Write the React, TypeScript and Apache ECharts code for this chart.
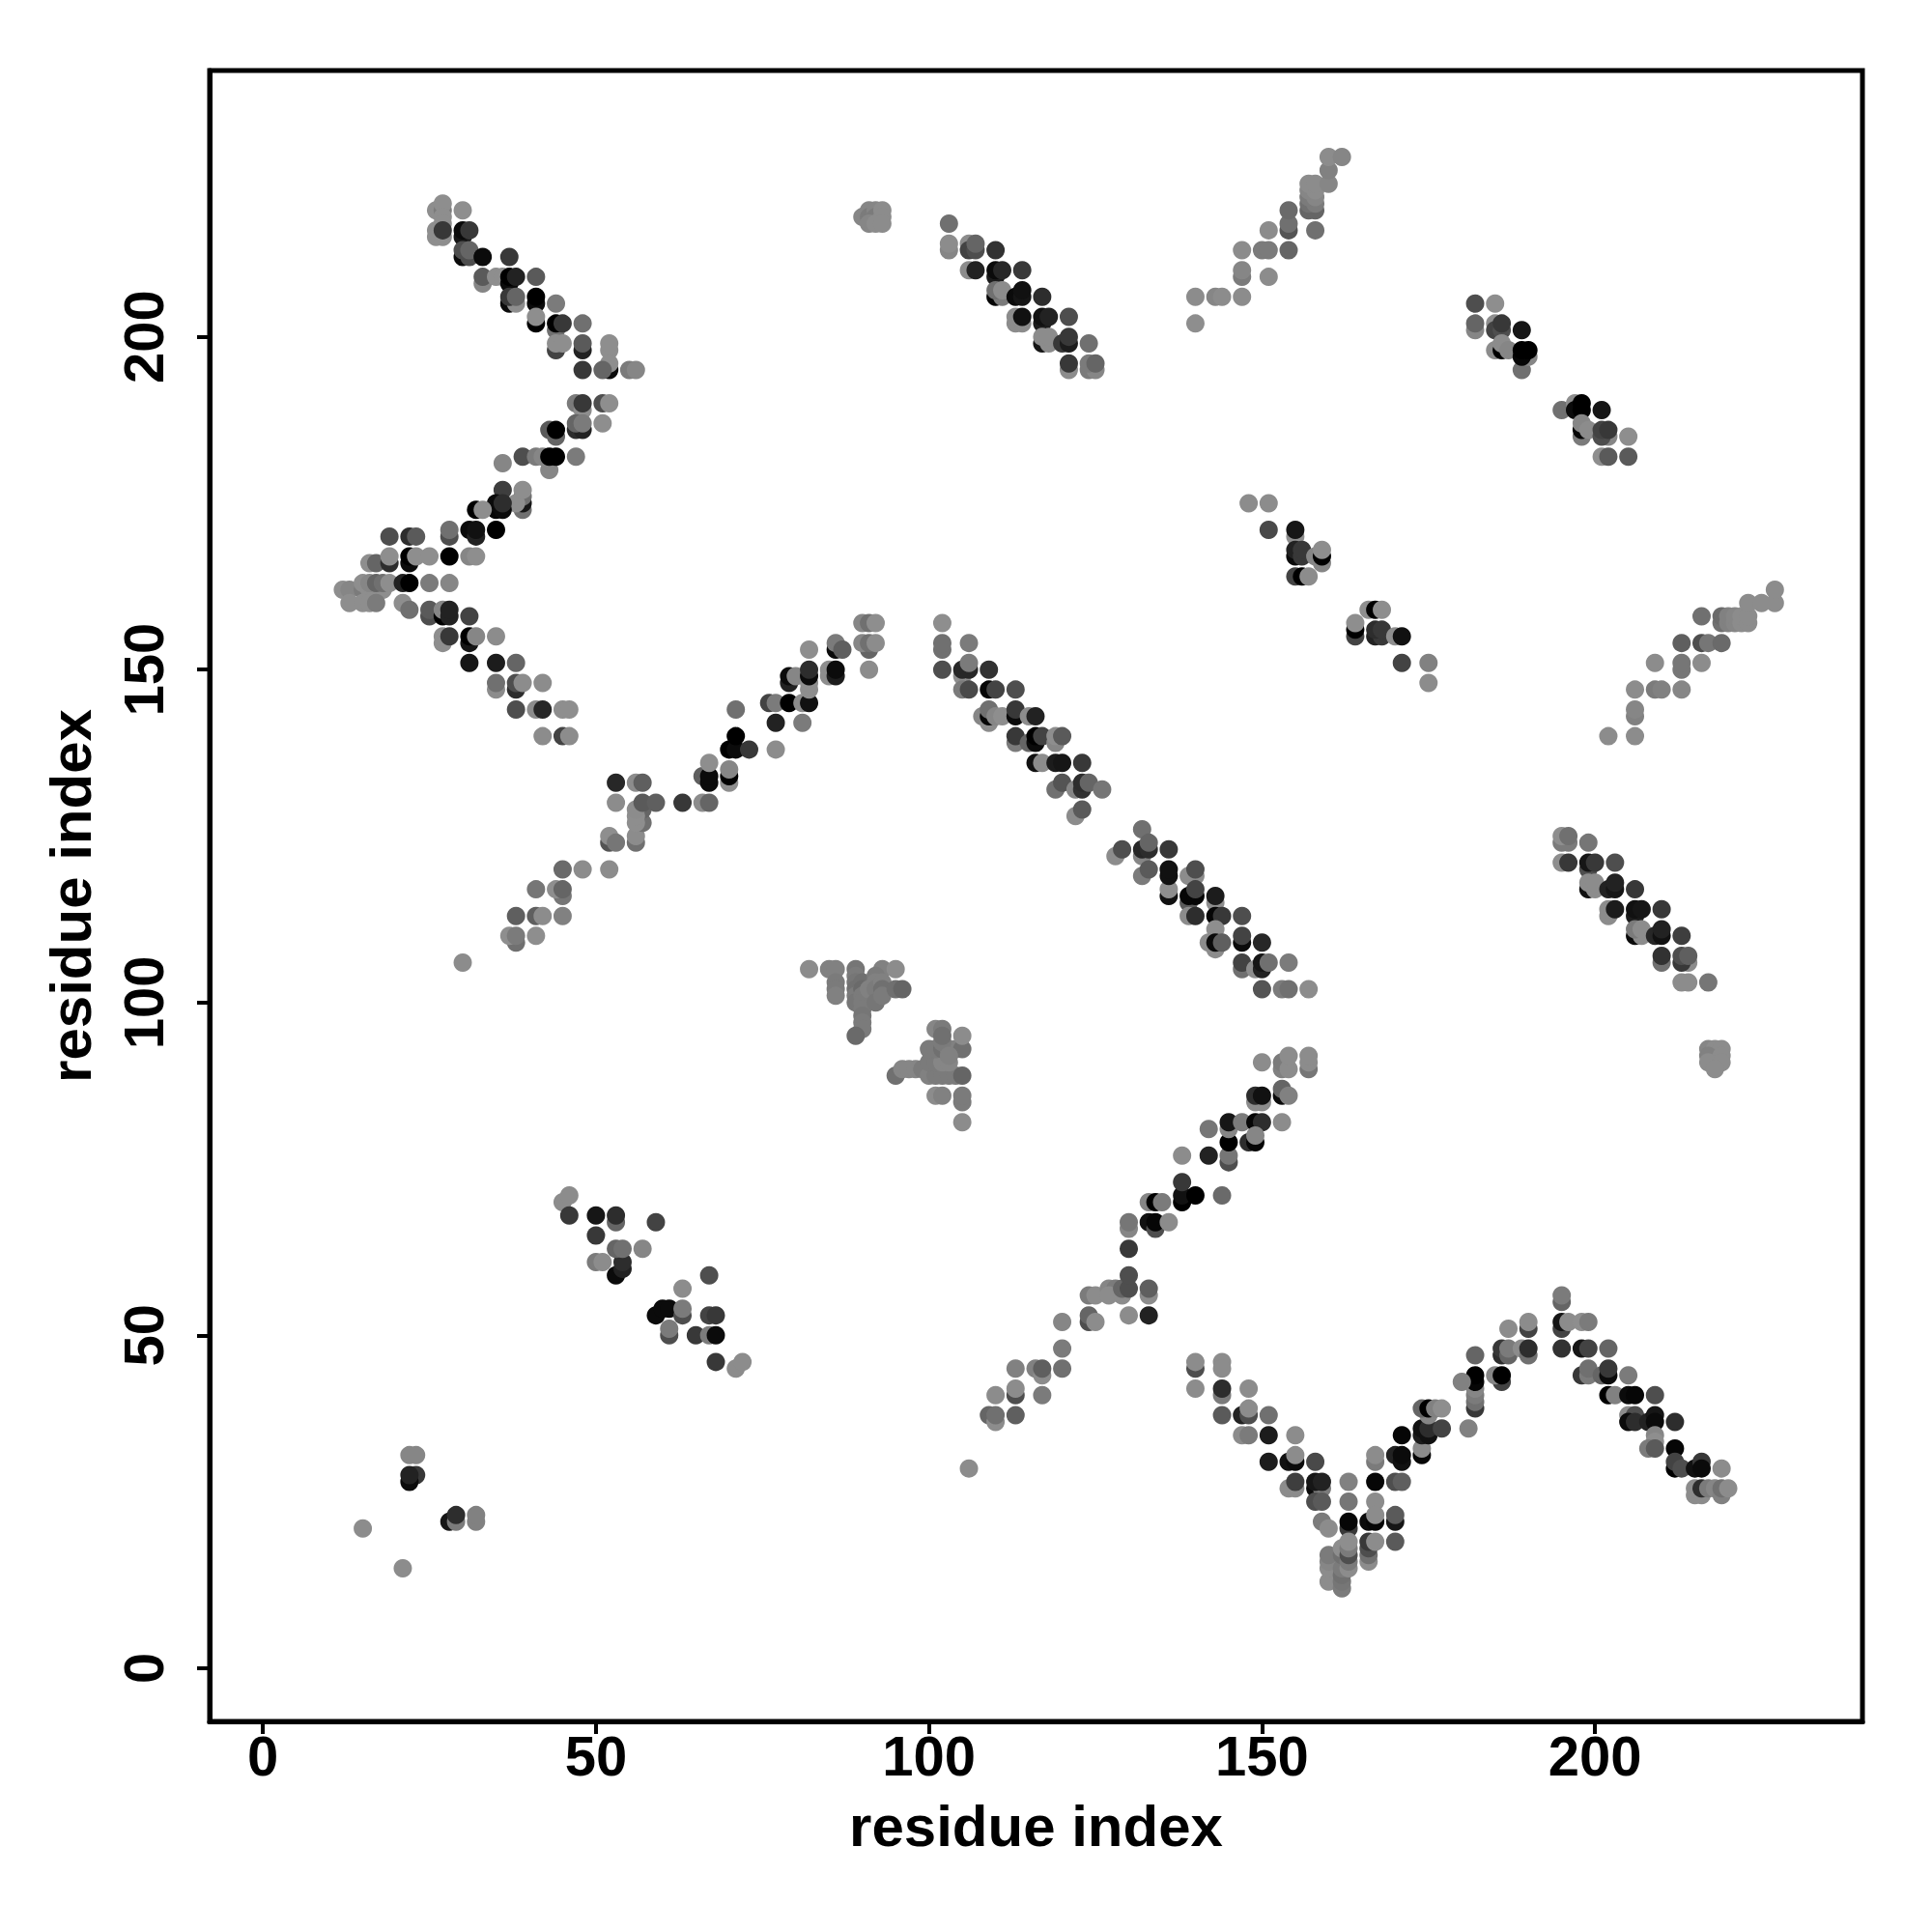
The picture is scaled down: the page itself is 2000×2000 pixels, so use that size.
import React, { useEffect, useRef } from "react";
import * as echarts from "echarts";

type P = [number, number, number];

const tickValues = [0, 50, 100, 150, 200];
const axisTitle = "residue index";

// each point: [residue x, residue y, grey level of the point]
const armTopLeft: P[] = [
[26,219,130],[27,219,110],[27,220,145],[30,219,130],[26,216,140],[26,215,140],[27,215,140],[27,218,140],[27,217,140],[27,216,50],
[30,215,20],[30,216,10],[31,216,50],[30,212,10],[31,212,70],[30,213,70],[31,213,90],[33,212,10],[37,212,50],
[33,208,120],[33,209,80],[35,209,135],[36,209,140],[37,208,10],[37,209,0],[38,209,30],[41,209,80],
[37,205,10],[38,205,130],[37,206,50],[38,206,90],[41,205,10],[41,206,0],[41,202,0],[41,203,130],[44,205,110],
[44,201,100],[44,202,0],[45,202,50],[48,202,100],[44,198,60],[44,199,130],[45,199,130],[48,198,30],[48,199,80],
[52,195,10],[52,198,130],[52,199,130],[52,196,130],[48,195,50],[51,195,90],[55,195,110],[56,195,120],
];
const armLeftRise: P[] = [
[47,190,110],[48,189,130],[48,190,50],[51,190,70],[52,190,130],[47,186,40],[48,186,30],[47,187,90],[48,187,110],[51,187,140],
[43,186,80],[44,185,90],[44,186,0],[39,182,70],[41,182,110],[42,182,120],[43,180,120],[43,182,0],[44,182,0],[47,182,110],[36,181,120],
[36,177,55],[39,174,100],[39,175,20],[39,176,100],[38,175,130],[39,177,135],[35,174,5],[36,174,10],[35,175,10],[36,175,40],
[32,174,0],[33,174,130],[28,170,70],[28,171,100],[31,171,10],[32,170,30],[32,171,15],[35,171,0],
[19,170,70],[22,170,40],[23,170,80],[16,166,130],[17,166,90],[19,166,40],[19,167,130],[22,166,10],[22,167,0],[23,167,130],[25,167,130],[28,167,0],[31,167,120],[32,167,130],
];
const armLeftTip: P[] = [
[12,162,130],[13,162,120],[15,162,110],[16,162,130],[18,162,130],[15,163,130],[16,163,120],[17,163,90],[18,163,100],[19,163,130],[21,163,30],[22,163,0],[25,163,110],[28,163,120],
[13,160,130],[15,160,130],[16,160,130],[17,160,110],[21,160,130],[22,159,100],[25,158,70],[25,159,80],[27,158,0],[27,159,120],[28,158,30],[28,159,30],[31,158,60],
[27,154,130],[27,155,130],[28,155,50],[31,154,20],[31,155,0],[32,155,120],[35,155,125],[31,151,20],[35,151,25],[38,151,90],
[35,147,125],[35,148,100],[38,147,40],[38,148,70],[39,148,125],[42,148,125],[38,144,70],[41,144,125],[42,144,35],[45,144,130],[46,144,130],
[42,140,125],[45,140,60],[46,140,125],
];
const lowerLeftBits: P[] = [
[15,21,125],[21,15,125],[22,32,120],[23,32,120],[23,29,50],[22,28,10],[22,29,30],[28,22,20],[29,22,110],[29,23,40],[32,22,115],[32,23,115],
[45,70,125],[46,71,125],[46,68,50],[50,65,50],[50,68,20],[53,67,90],[53,68,40],[59,67,60],[50,61,110],[51,61,125],[53,59,10],[54,60,30],[54,61,40],[53,63,90],[54,63,100],[57,63,120],
[67,59,70],[63,57,125],[59,53,10],[60,54,10],[61,54,10],[61,50,70],[61,51,110],[63,53,70],[63,54,110],[65,50,50],[67,53,60],[68,53,50],[67,50,110],[68,50,10],[68,46,50],[71,45,125],[72,46,125],
];
const armCentreRise: P[] = [
[30,106,125],[38,109,100],[37,110,130],[38,110,110],[41,110,130],[38,113,85],[41,113,85],[42,113,125],[45,113,115],
[41,117,105],[45,116,105],[44,117,130],[45,117,90],[45,120,95],[48,120,125],[52,120,125],
[52,124,75],[52,125,130],[53,124,105],[56,124,100],[56,125,125],[57,127,100],[56,127,130],[57,129,90],[56,128,130],[56,129,125],[57,130,80],
[53,130,125],[59,130,85],[63,130,50],[66,130,125],[67,130,90],[53,133,35],[56,133,125],[57,133,85],
[66,134,85],[67,133,10],[67,134,10],[67,136,130],[70,133,130],[70,134,0],[70,135,120],
[70,138,0],[71,138,10],[73,138,50],[71,140,0],[77,138,125],[71,144,100],
[76,145,60],[77,145,110],[79,145,0],[81,145,125],[82,145,15],[77,142,30],[81,142,110],
[79,148,30],[79,149,10],[80,149,120],[82,147,130],[82,148,130],[82,149,10],[82,150,40],[82,153,130],
[85,149,130],[85,150,130],[86,149,25],[86,150,10],[86,153,10],[86,154,110],[87,153,85],
[90,157,120],[91,157,100],[92,157,130],[91,153,90],[90,154,120],[91,154,100],[92,154,125],[91,150,125],
];
const greyPatchA: P[] = [
[82,105,125],[85,105,115],[86,105,115],[89,105,105],[93,105,115],[95,105,125],
[86,103,110],[86,102,110],[86,101,115],[89,104,110],[89,103,105],[89,102,100],[89,101,110],[89,100,105],[90,103,100],[90,102,95],[90,101,110],[90,100,110],[90,99,110],[90,98,105],[90,97,110],[90,96,110],[89,95,95],
[91,102,115],[92,104,110],[92,103,115],[92,102,110],[92,100,105],[93,103,115],[93,102,100],[93,101,110],[95,102,100],[96,102,90],
];
const greyPatchB: P[] = [
[95,89,100],[96,90,120],[97,90,120],[98,90,120],[99,90,110],[100,89,115],[101,89,110],[102,89,110],[103,89,110],[104,89,110],[105,89,90],
[100,91,110],[101,91,110],[102,91,120],[103,91,120],[100,93,110],[101,93,110],[102,93,100],[103,93,120],[104,93,115],[105,93,100],[102,94,110],[101,96,120],[102,96,110],[102,95,100],[103,92,115],[105,95,125],
[101,86,125],[102,86,115],[105,85,110],[105,86,110],[105,82,125],
];
const greyPatchTop: P[] = [
[90,218,120],[91,219,120],[91,218,110],[92,219,120],[92,218,110],[93,219,125],[93,218,125],[91,217,120],[92,217,125],[93,217,125],
];
const armLowerRise: P[] = [
[106,30,125],[109,38,90],[110,37,125],[110,38,100],[113,38,85],[110,41,125],[113,41,70],[113,42,125],[117,41,110],
[113,45,115],[116,45,115],[117,44,125],[117,45,85],[120,45,100],[120,48,110],[120,52,120],
[124,52,70],[124,53,90],[125,52,125],[130,53,125],[133,53,30],[124,56,110],[125,56,125],[127,57,120],[128,57,110],[127,56,125],[129,56,125],[129,57,90],[130,57,70],[130,59,70],[133,56,125],[133,57,85],
[130,63,50],[130,66,120],[130,67,105],[133,67,15],[134,66,70],[134,67,5],[136,67,125],[133,70,120],[134,70,0],[135,70,110],
[138,70,0],[138,71,15],[138,73,50],[140,71,0],[144,71,95],[138,77,125],[142,77,30],[145,76,70],[145,77,105],
[145,79,0],[145,81,120],[145,82,20],[142,81,105],[147,82,110],[149,82,5],[150,82,40],[153,82,125],[148,79,40],[149,79,5],[149,80,120],
[149,85,125],[150,85,125],[149,86,40],[150,86,15],[153,86,10],[153,87,90],[154,86,115],
[150,91,125],[153,90,115],[153,91,110],[154,90,125],[154,92,125],[157,90,105],[157,91,125],[157,92,125],
];
const armBottomV: P[] = [
[140,45,70],[140,46,125],[140,42,125],[144,46,125],[144,45,125],[144,41,110],[144,42,40],[148,42,125],
[144,38,80],[147,38,30],[148,38,70],[148,39,125],[151,38,100],[147,35,125],[148,35,110],[151,35,25],[155,35,125],
[151,31,25],[154,31,15],[155,31,10],[155,32,125],[158,31,65],[154,27,125],[155,27,125],[155,28,55],[158,27,10],[159,27,110],[158,28,20],[159,28,30],
[158,25,70],[159,25,80],[163,28,115],[163,25,105],[163,21,50],[163,22,5],[159,22,110],[160,21,125],
[167,28,5],[167,31,110],[167,32,125],[167,25,125],[166,22,10],[167,22,5],[167,23,125],[170,32,30],[171,31,15],[171,32,10],[170,28,70],[171,28,85],
[170,22,20],[170,23,80],[170,19,80],[166,16,125],[166,17,100],[166,18,70],[166,19,50],[167,19,125],
[160,13,125],[160,15,125],[160,16,120],[160,17,110],[162,12,110],[162,13,105],[162,14,100],[162,15,110],[162,17,100],[162,18,130],[163,15,125],[163,16,110],[163,17,70],[163,18,110],[163,19,130],
];
const armBottomPeak: P[] = [
[171,35,5],[174,32,5],[174,33,125],[174,35,25],[174,36,15],[175,35,15],[175,36,40],[177,36,60],[175,38,120],[174,39,90],[175,39,0],[176,39,115],[177,39,130],[181,36,115],
[182,39,50],[182,40,100],[182,41,110],[182,42,120],[182,43,5],[182,44,0],[180,43,115],[182,47,90],[186,43,60],[185,44,120],[186,44,0],
[186,47,40],[186,48,50],[187,47,90],[187,48,110],[187,51,125],[189,48,125],[190,47,100],[190,48,40],[190,51,60],[190,52,125],
[195,55,90],[195,56,110],[195,51,60],[195,52,20],[196,52,125],[198,52,130],[199,52,110],[195,48,45],[198,48,20],[199,48,60],[202,48,90],
[198,44,50],[199,44,110],[199,45,100],[201,44,90],[202,44,10],[202,45,50],[205,44,110],[202,41,0],[203,41,115],[205,41,10],[206,41,5],[209,41,70],
[205,38,125],[206,38,70],[205,37,10],[206,37,40],[208,37,30],[209,38,20],[209,37,10],[209,35,120],[209,34,130],[208,33,110],[209,33,80],[212,37,40],
[212,33,5],[212,30,0],[212,31,60],[213,30,70],[215,30,15],[216,31,50],[216,30,10],[219,30,125],
[215,26,125],[216,26,125],[215,27,125],[216,27,40],[217,27,110],[218,27,120],[219,26,115],[219,27,100],[220,27,125],
];
const armTopB: P[] = [
[103,217,100],[103,213,120],[103,214,125],[106,214,125],[106,213,60],[107,213,70],[107,214,90],[110,213,45],
[106,210,125],[107,210,30],[110,209,25],[110,210,10],[111,210,35],[114,210,50],
[110,206,5],[111,206,110],[110,207,100],[111,207,125],[113,206,10],[114,206,20],[114,207,15],[117,206,40],
[113,202,125],[114,202,125],[113,203,125],[114,203,15],[117,202,25],[117,203,15],[118,203,30],[121,203,70],
[117,199,20],[118,199,125],[117,200,125],[118,200,125],[120,199,50],[121,199,25],[121,200,50],[124,199,100],
[121,195,125],[121,196,50],[124,195,110],[125,195,120],[124,196,110],[125,196,90],
];
const armTopRise: P[] = [
[140,206,125],[140,202,130],[143,206,120],[144,206,125],[147,206,125],[147,209,110],[147,210,120],[151,209,125],
[147,213,125],[150,213,110],[151,213,110],[154,213,90],[151,216,125],[154,216,75],[154,217,100],[154,219,95],[158,216,100],
[157,219,90],[158,219,90],[157,220,100],[158,220,110],[157,221,110],[158,221,120],[157,222,120],[158,222,125],[157,223,125],[158,223,125],
[160,223,120],[160,225,115],[160,227,125],[162,227,120],
];
const patchUpperRight: P[] = [
[182,205,70],[185,205,130],[182,201,120],[182,202,90],[185,202,130],[185,201,60],[186,201,70],[186,202,50],[189,201,20],
[185,198,125],[186,198,0],[186,199,125],[187,198,120],[189,195,100],[190,197,120],[189,197,5],[189,198,0],[190,198,0],
[195,189,100],[197,190,130],[197,189,10],[198,190,0],[198,189,0],[201,189,20],[198,185,110],[198,186,5],[198,187,120],[199,186,125],
[202,185,120],[201,185,70],[201,186,60],[202,186,50],[205,185,135],[201,182,130],[202,182,80],[205,182,80],
];
const patchMidRight: P[] = [
[148,175,125],[151,175,125],[151,171,65],[155,170,130],[155,171,20],[155,167,10],[155,168,30],[156,167,50],[156,168,50],[158,167,120],[159,166,120],[159,167,0],[159,168,130],
[155,164,60],[156,164,0],[157,164,125],[166,159,130],[167,159,0],[168,159,130],[164,155,60],[164,156,0],[164,157,130],
[167,155,30],[168,155,50],[167,156,40],[168,156,50],[170,155,130],[171,155,15],[171,151,60],[175,151,115],[175,148,125],
];
const armFarRight: P[] = [
[202,140,125],[206,140,125],[206,143,115],[206,144,120],[206,147,125],[209,147,110],[210,147,115],[213,147,120],
[209,151,125],[213,150,105],[213,151,105],[216,151,125],[213,154,85],[216,154,70],[217,154,105],[219,154,95],[216,158,100],
[219,157,100],[219,158,95],[220,157,115],[220,158,115],[221,157,120],[221,158,120],[222,157,125],[222,158,125],[223,157,125],[223,158,125],
[223,160,125],[225,160,125],[227,160,125],[227,162,125],
];
const armLowerRight: P[] = [
[195,124,110],[196,124,110],[195,125,130],[196,125,100],[199,124,105],[195,121,130],[196,121,50],[199,120,70],[199,121,20],[200,121,50],[203,121,70],
[199,117,15],[200,117,125],[199,118,125],[200,118,125],[202,117,30],[203,117,20],[203,118,30],[206,117,50],
[202,113,125],[202,114,125],[203,114,25],[206,113,25],[206,114,15],[207,114,20],[210,114,50],
[206,110,10],[207,110,125],[206,111,110],[207,111,125],[209,110,35],[210,110,15],[210,111,30],[213,110,55],
[210,106,100],[210,107,45],[214,106,125],[213,106,50],[213,107,70],[214,107,85],[213,103,125],[214,103,125],[217,103,105],
[217,93,120],[218,93,125],[219,93,125],[217,92,115],[219,92,125],[217,91,125],[219,91,125],[218,90,125],
];
const armCentreFall: P[] = [
[102,157,130],[102,153,100],[102,154,100],[106,154,110],[102,150,70],[105,149,130],[105,150,35],[106,150,35],[106,151,110],[109,150,45],
[105,147,110],[106,147,65],[109,147,5],[110,147,60],[113,147,70],
[108,143,120],[109,142,125],[109,143,5],[109,144,100],[110,143,120],[111,143,135],[113,143,10],[113,144,50],[115,143,125],[116,143,30],
[113,139,110],[113,140,50],[115,139,90],[116,139,10],[116,140,0],[117,140,60],[119,139,120],[119,140,130],[120,140,80],
[116,136,15],[117,136,125],[119,136,25],[120,136,20],[123,136,50],
[119,132,100],[120,133,75],[122,132,120],[123,132,45],[123,133,40],[124,133,90],[126,132,105],[122,128,125],[123,129,80],
[128,122,125],[129,123,70],[132,126,100],[132,122,120],[132,123,35],[133,123,40],[133,124,90],[136,123,50],
[132,119,110],[133,120,80],[136,116,15],[136,117,130],[136,119,15],[136,120,15],
[139,119,125],[140,119,125],[140,120,70],[139,115,80],[139,116,5],[140,116,5],[140,117,60],[139,113,125],[140,113,40],
[143,115,130],[143,116,25],[143,113,5],[144,113,50],[147,113,70],[143,111,135],[142,109,125],[143,108,125],[143,109,10],[144,109,85],
[147,109,10],[147,110,60],[150,109,35],[147,105,100],[147,106,60],[149,105,130],[150,105,30],[150,106,20],[151,106,100],[154,106,110],
[150,102,75],[153,102,110],[154,102,100],[157,102,125],
];

const points: P[] = [
  ...armTopLeft, ...armLeftRise, ...armLeftTip, ...lowerLeftBits, ...armCentreRise,
  ...greyPatchA, ...greyPatchB, ...greyPatchTop, ...armLowerRise, ...armBottomV, ...armBottomPeak,
  ...armTopB, ...armTopRise, ...patchUpperRight, ...patchMidRight, ...armFarRight, ...armLowerRight, ...armCentreFall,
];

const FONT = "'Liberation Sans', Arial, sans-serif";

export default function App() {
  const ref = useRef<HTMLDivElement>(null);
  useEffect(() => {
    document.body.style.margin = "0";
    const chart = echarts.init(ref.current!, null, { renderer: "svg" });
    const axis = {
      type: "value" as const,
      min: -8,
      nameLocation: "middle" as const,
      name: axisTitle,
      nameTextStyle: { fontFamily: FONT, fontSize: 60, fontWeight: "bold" as const, color: "#000" },
      axisLine: { show: true, onZero: false, lineStyle: { color: "#000", width: 5 } },
      splitLine: { show: false },
      axisTick: { show: true, length: 13, lineStyle: { color: "#000", width: 4 }, customValues: tickValues },
    };
    chart.setOption({
      animation: false,
      backgroundColor: "#fff",
      grid: { left: 217, right: 72, top: 73, bottom: 218, show: true, borderColor: "#000", borderWidth: 5, backgroundColor: "transparent" },
      xAxis: {
        ...axis,
        max: 240.15,
        nameGap: 78,
        axisLabel: { fontFamily: FONT, fontSize: 58, fontWeight: "bold", color: "#000", margin: 6, customValues: tickValues },
      },
      yAxis: {
        ...axis,
        max: 240,
        nameGap: 114,
        axisLabel: { fontFamily: FONT, fontSize: 58, fontWeight: "bold", color: "#000", margin: 69, rotate: 90, align: "center", verticalAlign: "middle", customValues: tickValues },
      },
      series: [
        {
          type: "scatter",
          data: points,
          symbol: "circle",
          symbolSize: 19,
          silent: true,
          itemStyle: {
            opacity: 1,
            color: (p: any) => {
              const g = Math.min(Math.round(p.value[2] * 1.12), 142);
              return `rgb(${g},${g},${g})`;
            },
          },
        },
      ],
    });
    return () => chart.dispose();
  }, []);
  return <div ref={ref} style={{ width: 2000, height: 2000 }} />;
}
